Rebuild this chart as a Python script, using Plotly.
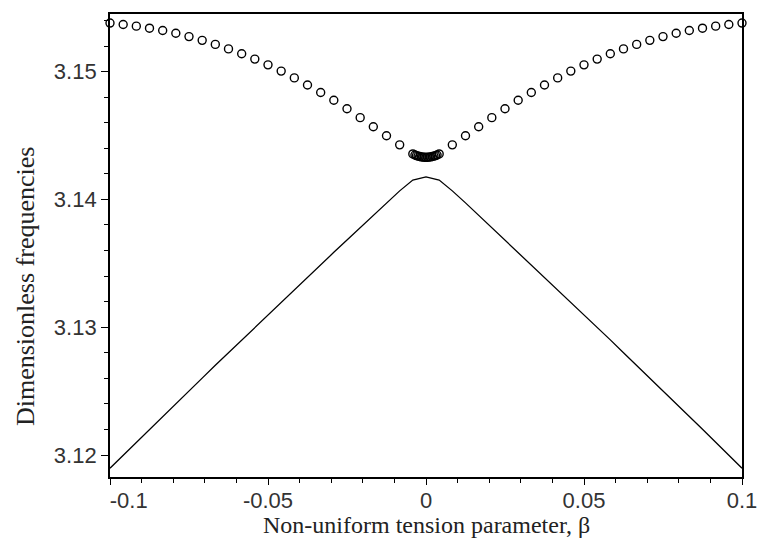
import plotly.graph_objects as go

# Upper branch (circles): beta values and dimensionless frequencies
beta_upper = [-0.1, -0.09583, -0.09167, -0.0875, -0.08333, -0.07917, -0.075, -0.07083,
              -0.06667, -0.0625, -0.05833, -0.05417, -0.05, -0.04583, -0.04167, -0.0375,
              -0.03333, -0.02917, -0.025, -0.02083, -0.01667, -0.0125, -0.00833, -0.00417,
              -0.0035, -0.003, -0.0025, -0.002, -0.0015, -0.001, -0.0005, 0.0,
              0.0005, 0.001, 0.0015, 0.002, 0.0025, 0.003, 0.0035,
              0.00417, 0.00833, 0.0125, 0.01667, 0.02083, 0.025, 0.02917, 0.03333,
              0.0375, 0.04167, 0.04583, 0.05, 0.05417, 0.05833, 0.0625, 0.06667,
              0.07083, 0.075, 0.07917, 0.08333, 0.0875, 0.09167, 0.09583, 0.1]
freq_upper = [3.15380, 3.15369, 3.15356, 3.15340, 3.15322, 3.15300, 3.15274, 3.15245,
              3.15213, 3.15178, 3.15140, 3.15098, 3.15053, 3.15004, 3.14951, 3.14895,
              3.14837, 3.14776, 3.14710, 3.14640, 3.14569, 3.14498, 3.14427, 3.14356,
              3.14348, 3.14343, 3.14339, 3.14336, 3.14333, 3.14331, 3.14330, 3.14329,
              3.14330, 3.14331, 3.14333, 3.14336, 3.14339, 3.14343, 3.14348,
              3.14356, 3.14427, 3.14498, 3.14569, 3.14640, 3.14710, 3.14776, 3.14837,
              3.14895, 3.14951, 3.15004, 3.15053, 3.15098, 3.15140, 3.15178, 3.15213,
              3.15245, 3.15274, 3.15300, 3.15322, 3.15340, 3.15356, 3.15369, 3.15380]

# Lower branch (solid line)
beta_lower = [-0.1, -0.09583, -0.09167, -0.0875, -0.08333, -0.07917, -0.075, -0.07083,
              -0.06667, -0.0625, -0.05833, -0.05417, -0.05, -0.04583, -0.04167, -0.0375,
              -0.03333, -0.02917, -0.025, -0.02083, -0.01667, -0.0125, -0.00833, -0.00417,
              0.0,
              0.00417, 0.00833, 0.0125, 0.01667, 0.02083, 0.025, 0.02917, 0.03333,
              0.0375, 0.04167, 0.04583, 0.05, 0.05417, 0.05833, 0.0625, 0.06667,
              0.07083, 0.075, 0.07917, 0.08333, 0.0875, 0.09167, 0.09583, 0.1]
freq_lower = [3.11897, 3.11999, 3.12100, 3.12201, 3.12302, 3.12402, 3.12502, 3.12602,
              3.12702, 3.12801, 3.12901, 3.12999, 3.13098, 3.13196, 3.13294, 3.13392,
              3.13489, 3.13586, 3.13683, 3.13780, 3.13876, 3.13973, 3.14067, 3.14152,
              3.14176,
              3.14152, 3.14067, 3.13973, 3.13876, 3.13780, 3.13683, 3.13586, 3.13489,
              3.13392, 3.13294, 3.13196, 3.13098, 3.12999, 3.12901, 3.12801, 3.12702,
              3.12602, 3.12502, 3.12402, 3.12302, 3.12201, 3.12100, 3.11999, 3.11897]

x_tickvals = [-0.1, -0.05, 0, 0.05, 0.1]
x_ticktext = ["\u2002\u2002\u2002\u2009-0.1", "-0.05", "0", "0.05", "0.1"]
y_tickvals = [3.12, 3.13, 3.14, 3.15]
y_ticktext = ["3.12", "3.13", "3.14", "3.15"]
x_title = "Non-uniform tension parameter, \u03b2"
y_title = "Dimensionless frequencies"

fig = go.Figure()
fig.add_trace(go.Scatter(
    x=beta_lower, y=freq_lower, mode="lines",
    line=dict(color="black", width=1.3), showlegend=False, cliponaxis=False))
fig.add_trace(go.Scatter(
    x=beta_upper, y=freq_upper, mode="markers",
    marker=dict(symbol="circle-open", size=8, color="black", line=dict(width=1.4)),
    showlegend=False, cliponaxis=False))

tickfont = dict(family="Liberation Sans, Arial, sans-serif", size=22, color="#333")
titlefont = dict(family="Liberation Serif, Times New Roman, serif", size=24, color="#222")

fig.update_layout(
    width=757, height=539,
    margin=dict(l=110, r=15, t=14, b=62),
    paper_bgcolor="white", plot_bgcolor="white",
    xaxis=dict(
        range=[-0.1, 0.1], tickmode="array", tickvals=x_tickvals, ticktext=x_ticktext,
        ticks="outside", ticklen=6, tickwidth=1.3, tickcolor="black",
        minor=dict(dtick=0.01, ticks="outside", ticklen=4, tickwidth=1.2, tickcolor="black"),
        showline=True, linecolor="black", linewidth=1.8, mirror=True,
        showgrid=False, zeroline=False, tickfont=tickfont, automargin=False,
        ticklabeloverflow="allow", ticklabelstandoff=-3,
    ),
    yaxis=dict(
        range=[3.11828, 3.15451], tickmode="array", tickvals=y_tickvals, ticktext=y_ticktext,
        ticks="outside", ticklen=7, tickwidth=1.3, tickcolor="black",
        minor=dict(dtick=0.002, ticks="outside", ticklen=4, tickwidth=1.2, tickcolor="black"),
        showline=True, linecolor="black", linewidth=1.8, mirror=True,
        showgrid=False, zeroline=False, tickfont=tickfont, automargin=False,
        ticklabeloverflow="allow",
    ),
    annotations=[
        dict(text=x_title, xref="paper", yref="paper", x=0.5, y=-0.1339,
             xanchor="center", yanchor="bottom", showarrow=False, font=titlefont,
             borderpad=0),
        dict(text=y_title, xref="paper", yref="paper", x=-0.1345, y=0.4125,
             xanchor="center", yanchor="middle", textangle=-90, showarrow=False,
             font=dict(family="Liberation Serif, Times New Roman, serif", size=26,
                       color="#222")),
    ],
)

fig.write_html("out.html")
